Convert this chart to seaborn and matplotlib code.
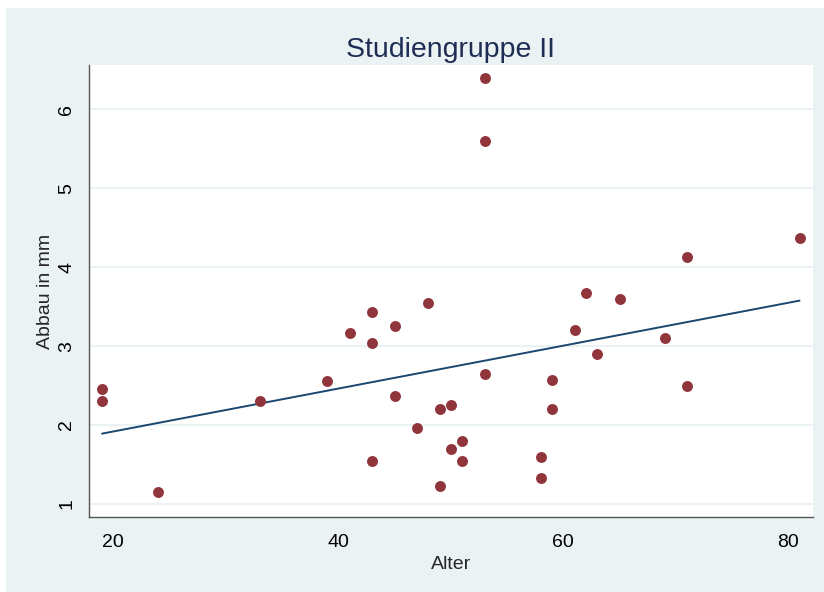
import numpy as np
import pandas as pd
import seaborn as sns
import matplotlib.pyplot as plt
from matplotlib.patches import Rectangle

sns.set_style('white')
plt.rcParams['font.family'] = ['Liberation Sans', 'DejaVu Sans']

# data
alter = [19, 19, 24, 33, 39, 41, 43, 43, 43, 45, 45, 47, 48, 49, 49, 50, 50,
         51, 51, 53, 53, 53, 58, 58, 59, 59, 61, 62, 63, 65, 69, 71, 71, 81]
abbau = [2.45, 2.30, 1.15, 2.30, 2.56, 3.17, 3.43, 3.04, 1.54, 3.26, 2.37,
         1.96, 3.55, 2.20, 1.23, 2.25, 1.70, 1.80, 1.54, 6.40, 5.60, 2.65,
         1.60, 1.33, 2.57, 2.20, 3.20, 3.67, 2.90, 3.59, 3.10, 4.13, 2.50, 4.37]
xticks = [20, 40, 60, 80]
yticks = [1, 2, 3, 4, 5, 6]

df = pd.DataFrame({'Alter': alter, 'Abbau': abbau})

bg = '#eaf2f3'
fig = plt.figure(figsize=(8.24, 5.92), dpi=100)
fig.patches.append(Rectangle((6 / 824, 0), 1, 1 - 8 / 592, transform=fig.transFigure,
                             facecolor=bg, edgecolor='none', zorder=-1))
ax = fig.add_axes([89 / 824, 75 / 592, (813 - 89) / 824, (517 - 65) / 592])
ax.set_facecolor('white')

sns.regplot(data=df, x='Alter', y='Abbau', ax=ax, ci=None,
            scatter_kws={'s': 62, 'color': '#90353b', 'alpha': 1, 'linewidths': 0, 'zorder': 3},
            line_kws={'color': '#1a476f', 'linewidth': 1.4, 'zorder': 2})

ax.set_xlim(17.84, 82.2)
ax.set_ylim(0.835, 6.56)
ax.set_xticks(xticks)
ax.set_yticks(yticks)
ax.grid(axis='y', color=bg, linewidth=1.5, zorder=0)
ax.set_axisbelow(True)

for s in ['top', 'right']:
    ax.spines[s].set_visible(False)
for s in ['left', 'bottom']:
    ax.spines[s].set_color('#555555')
    ax.spines[s].set_linewidth(1.0)
ax.tick_params(axis='both', direction='out', length=6, width=0.9, color='#555555',
               labelsize=14, labelcolor='black')
ax.tick_params(axis='x', pad=6)
ax.tick_params(axis='y', pad=4)
plt.setp(ax.get_yticklabels(), rotation=90, va='center')

ax.set_xlabel('Alter', fontsize=14, labelpad=4)
ax.set_ylabel('Abbau in mm', fontsize=14, labelpad=3)
ax.set_title('Studiengruppe II', fontsize=20.5, color='#1f2d55', pad=6)

plt.savefig('out.png', dpi=100)
